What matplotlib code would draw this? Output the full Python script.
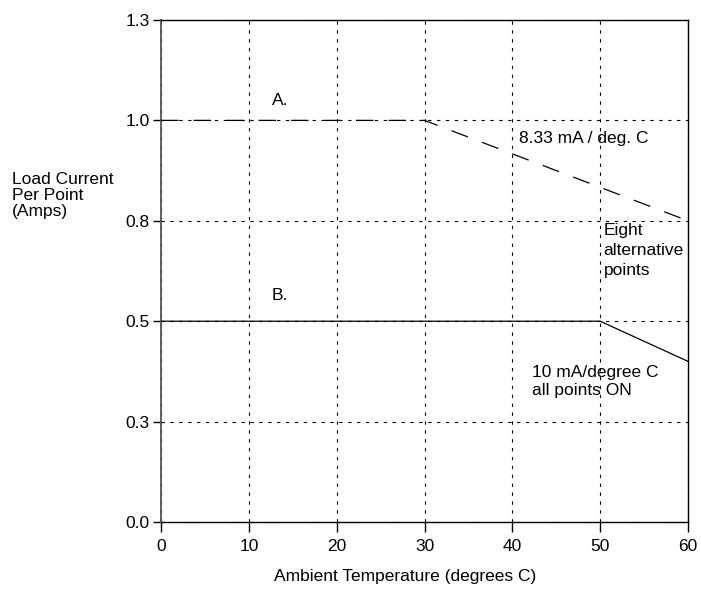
import matplotlib
matplotlib.use("Agg")
import matplotlib.pyplot as plt

plt.rcParams['font.family'] = ['Liberation Sans', 'DejaVu Sans']

# Derating curves: load current per point vs ambient temperature
temp_a = [0, 30, 60]
current_a = [1.0, 1.0, 0.75]       # eight alternative points, 8.33 mA/deg C above 30 C
temp_b = [0, 50, 60]
current_b = [0.5, 0.5, 0.4]        # all points ON, 10 mA/deg C above 50 C

x_ticks = [0, 10, 20, 30, 40, 50, 60]
y_ticks = [0.0, 0.25, 0.5, 0.75, 1.0, 1.25]
y_tick_labels = ["0.0", "0.3", "0.5", "0.8", "1.0", "1.3"]

FS = 12.5

fig = plt.figure(figsize=(7.01, 5.89), dpi=100)
ax = fig.add_axes([161/701, 1 - 522/589, (688 - 161)/701, (522 - 20)/589])

ax.set_xlim(0, 60)
ax.set_ylim(0, 1.25)
ax.set_xticks(x_ticks)
ax.set_xticklabels([str(t) for t in x_ticks], fontsize=FS)
ax.set_yticks(y_ticks)
ax.set_yticklabels(y_tick_labels, fontsize=FS)
ax.tick_params(axis='x', direction='out', length=7, width=1, color='black', pad=5)
ax.tick_params(axis='y', direction='out', length=6, width=1, color='black', pad=2)

# dotted grid
ax.grid(True, color='black', linestyle=(0, (3, 5)), linewidth=0.8)
ax.set_axisbelow(True)

for side in ['top', 'right', 'bottom']:
    ax.spines[side].set_color('black')
    ax.spines[side].set_linewidth(1.0)
ax.spines['left'].set_color('#555555')
ax.spines['left'].set_linewidth(1.3)

ax.plot(temp_a, current_a, color='black', linewidth=0.9,
        linestyle=(0, (14, 12)), zorder=3)
ax.plot(temp_b, current_b, color='black', linewidth=0.9,
        linestyle='-', zorder=3)

ax.text(12.6, 1.05, "A.", fontsize=FS, ha='left', va='center')
ax.text(40.8, 0.955, "8.33 mA / deg. C", fontsize=FS, ha='left', va='center')
ax.text(50.4, 0.745, "Eight\nalternative\npoints", fontsize=FS,
        ha='left', va='top', linespacing=1.44)
ax.text(12.6, 0.565, "B.", fontsize=FS, ha='left', va='center')
ax.text(42.2, 0.39, "10 mA/degree C\nall points ON", fontsize=FS,
        ha='left', va='top', linespacing=1.25)

ax.set_xlabel("Ambient Temperature (degrees C)", fontsize=FS, labelpad=12)
ax.xaxis.set_label_coords((405 - 161) / 527, -(577 - 522) / 502, transform=ax.transAxes)
ax.xaxis.label.set_va('center')

fig.text(12/701, 1 - 172/589, "Load Current\nPer Point\n(Amps)", fontsize=FS,
         ha='left', va='top', linespacing=1.1)

fig.savefig("out.png", dpi=100, facecolor='white')
